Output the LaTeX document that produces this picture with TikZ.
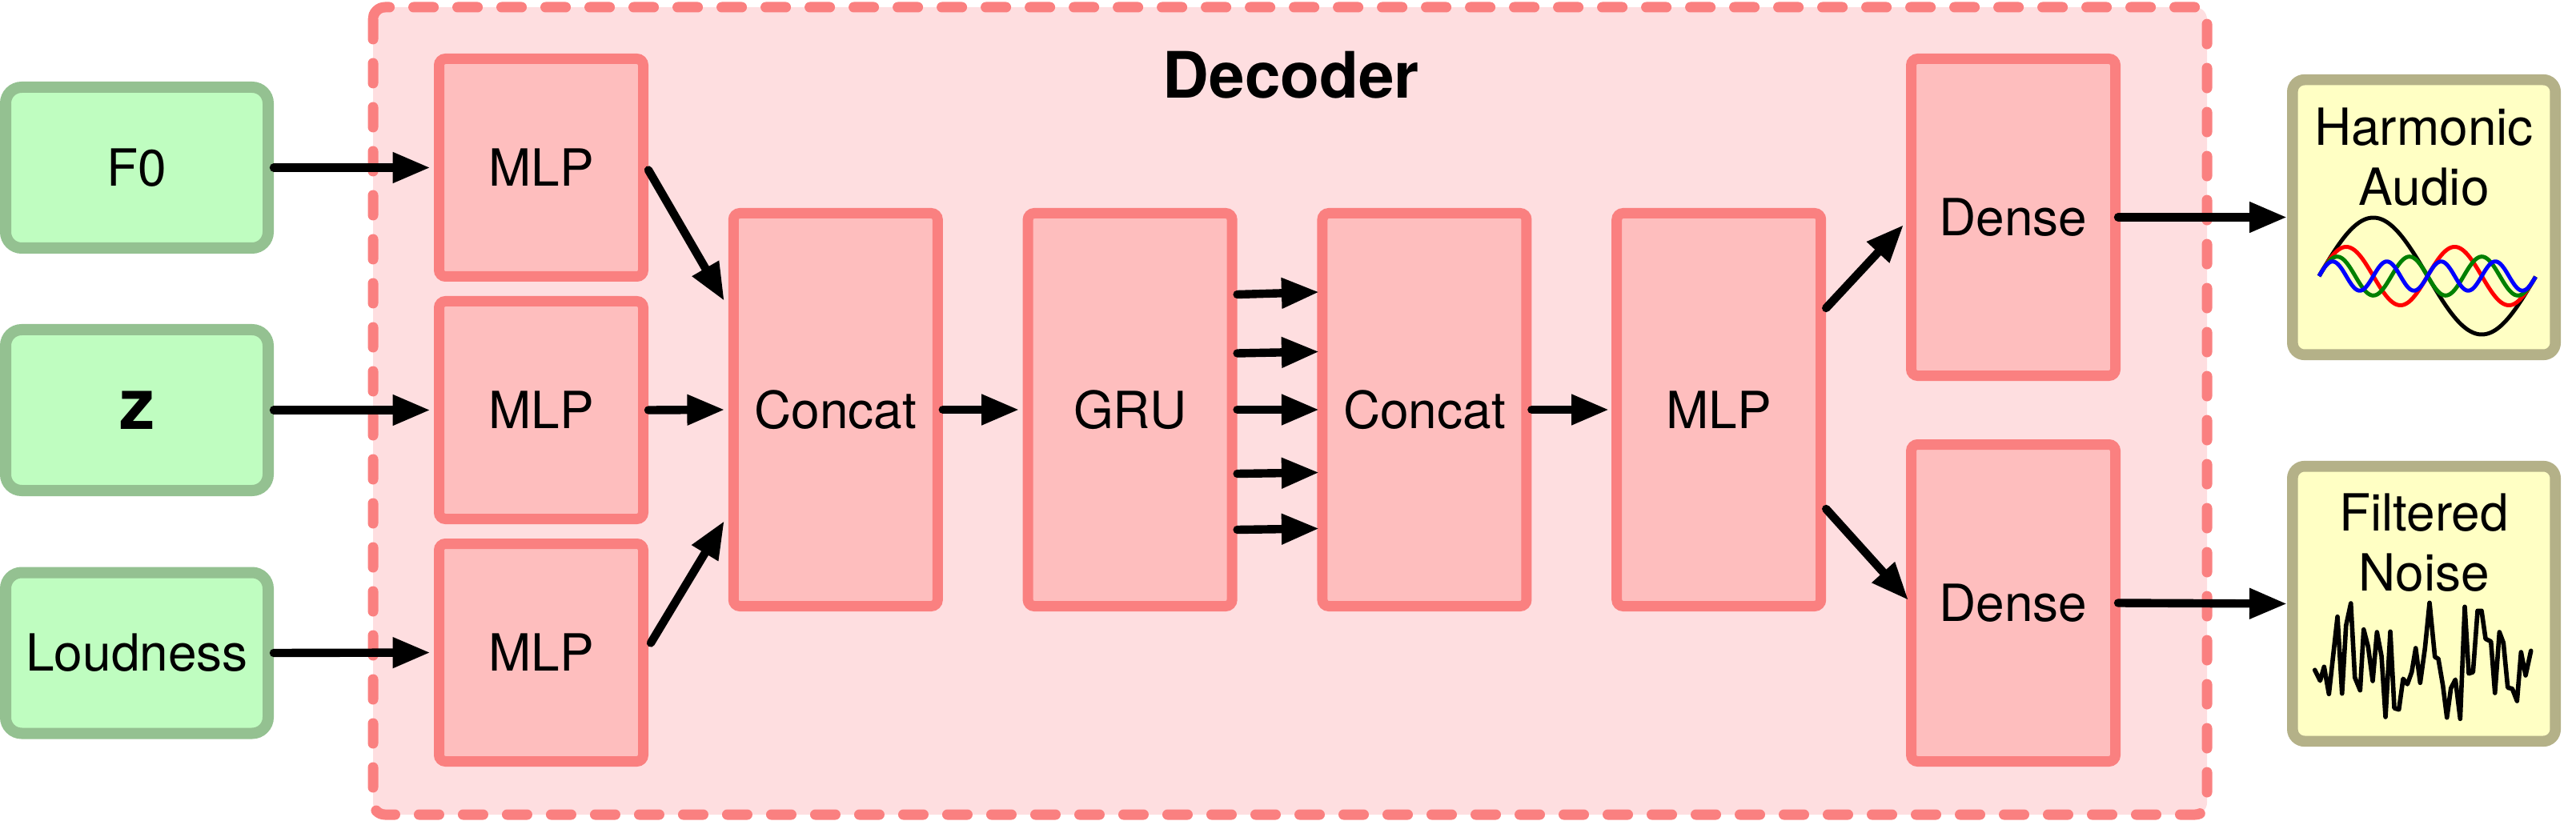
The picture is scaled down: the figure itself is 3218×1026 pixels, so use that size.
\documentclass[tikz,border=0pt]{standalone}
\usepackage{fontspec}
\setmainfont{TeX Gyre Heros}
\usetikzlibrary{arrows.meta,calc}
\definecolor{framefill}{RGB}{254,222,224}
\definecolor{pinkline}{RGB}{250,128,128}
\definecolor{pinkfill}{RGB}{254,190,190}
\definecolor{greenfill}{RGB}{191,253,192}
\definecolor{greenline}{RGB}{148,193,145}
\definecolor{yellowfill}{RGB}{255,255,196}
\definecolor{yellowline}{RGB}{180,177,136}
\definecolor{wavegreen}{RGB}{0,128,0}
\definecolor{wavered}{RGB}{255,0,0}
\definecolor{waveblue}{RGB}{0,0,255}
\begin{document}
\begin{tikzpicture}[x=0.25pt,y=-0.25pt,
  txt/.style={font=\fontsize{16}{18.75}\selectfont},
  inbox/.style={draw=greenline, fill=greenfill, line width=3.5pt, rounded corners=5pt,
    minimum width=82pt, minimum height=50.25pt, inner sep=0pt, txt},
  netbox/.style={draw=pinkline, fill=pinkfill, line width=3.25pt, rounded corners=2pt,
    minimum width=63.75pt, inner sep=0pt, txt},
  outbox/.style={draw=yellowline, fill=yellowfill, line width=3.4pt, rounded corners=3.75pt,
    minimum width=82.1pt, minimum height=85.9pt, inner sep=0pt},
  conn/.style={-{Triangle[length=11.75pt,width=9pt]}, line width=2.6pt, line cap=round, draw=black},
  wave/.style={line width=1.25pt, line join=round}
]
\useasboundingbox (0,0) rectangle (3218,1026);

% decoder frame
\draw[draw=pinkline, fill=framefill, line width=3.25pt, dash pattern=on 6.25pt off 7.5pt,
  line cap=round, rounded corners=3.75pt] (466,9) rectangle (2757,1018);
\node[font=\bfseries\fontsize{20}{24}\selectfont, anchor=base, inner sep=0pt] (dectitle) at (1613,123) {Decoder};

% inputs
\node[inbox] (f0) at (171,209.5) {F0};
\node[inbox, font=\bfseries\fontsize{22}{26}\selectfont] (z) at (171,512.5) {z};
\node[inbox] (loud) at (171,816) {Loudness};

% network
\node[netbox, minimum height=68pt] (mlp1) at (676,209.5) {MLP};
\node[netbox, minimum height=68pt] (mlp2) at (676,512.5) {MLP};
\node[netbox, minimum height=68pt] (mlp3) at (676,815.5) {MLP};
\node[netbox, minimum height=122.75pt] (cat1) at (1043.8,512) {Concat};
\node[netbox, minimum height=122.75pt] (gru) at (1411.6,512) {GRU};
\node[netbox, minimum height=122.75pt] (cat2) at (1779.4,512) {Concat};
\node[netbox, minimum height=122.75pt] (mlp4) at (2147.2,512) {MLP};
\node[netbox, minimum height=99pt] (dense1) at (2515,271.5) {Dense};
\node[netbox, minimum height=99pt] (dense2) at (2515,753.5) {Dense};

% outputs
\node[outbox] (harm) at (3028,271.5) {};
\node[outbox] (noise) at (3028,754.5) {};
\node[txt, align=center, anchor=north, inner sep=0pt] (harmtxt) at (3028,134) {Harmonic\\Audio};
\node[txt, align=center, anchor=north, inner sep=0pt] (noisetxt) at (3028,616) {Filtered\\Noise};

% harmonic waves
\draw[wave, black] plot[domain=0:1, samples=150] ({2897+271*\x},{345-73*sin(360*\x)});
\draw[wave, wavered] plot[domain=0:1, samples=150] ({2897+271*\x},{345-36.5*sin(720*\x)});
\draw[wave, wavegreen] plot[domain=0:1, samples=150] ({2897+271*\x},{345-24.3*sin(1080*\x)});
\draw[wave, waveblue] plot[domain=0:1, samples=150] ({2897+271*\x},{345-18.25*sin(1440*\x)});

% noise
\draw[line width=1.4pt, line join=round, line cap=round] plot coordinates {
(2891.7,837.3) (2898.3,850.7) (2903.3,833.3) (2909.3,867.3) (2920,770.7) (2925.7,866.7)
(2930.7,781.7) (2936.7,754) (2941.7,846.7) (2948.3,862.7) (2952.7,786.7) (2958.3,808.3)
(2964,851) (2969.3,790) (2975,820) (2980,896) (2986,789.3) (2991,885) (2996.7,886.7)
(3002,848.3) (3007.3,855) (3012.7,840) (3017.7,810) (3023.3,853.3) (3029.3,810)
(3035,753.3) (3041.7,821) (3046,823.3) (3051.7,856.7) (3056.7,896.7) (3061.7,860)
(3067.3,849.3) (3073.3,898.3) (3079,758.3) (3084,841.7) (3089.3,840) (3095,763.3)
(3100,763.3) (3105,798.3) (3111.7,801.7) (3116.7,866) (3122.3,790) (3127.3,803.3)
(3132.7,859.3) (3138.3,860.7) (3144.3,876) (3149.3,815) (3155,844) (3161.7,813.3)};

% connectors
\draw[conn, shorten >=1.1pt] (f0.east) -- (mlp1.west);
\draw[conn, shorten >=1.1pt] (z.east) -- (mlp2.west);
\draw[conn, shorten >=1.1pt] (loud.east) -- (mlp3.west);
\draw[conn] ($(mlp1.east)+(0,3)$) -- ($(cat1.west)+(-5,-136)$);
\draw[conn, shorten >=1.1pt] (mlp2.east) -- (cat1.west);
\draw[conn] ($(mlp3.east)+(3,-12)$) -- ($(cat1.west)+(-5,139)$);
\draw[conn, shorten >=1.1pt] (cat1.east) -- (gru.west);
\foreach \a/\b in {-144/-147, -70.5/-72.5, 0/0, 80/78.5, 150/148.5}
  \draw[conn] ($(gru.east)+(0,\a)$) -- ($(cat2.west)+(2.5,\b)$);
\draw[conn, shorten >=0.8pt] (cat2.east) -- (mlp4.west);
\draw[conn] ($(mlp4.east)+(0,-127)$) -- ($(dense1.west)+(-3,9.5)$);
\draw[conn] ($(mlp4.east)+(0,124)$) -- ($(dense2.west)+(3,-3.5)$);
\draw[conn] ($(dense1.east)+(-3,0)$) -- (harm.west);
\draw[conn] ($(dense2.east)+(-3,0)$) -- (noise.west);
\end{tikzpicture}
\end{document}
